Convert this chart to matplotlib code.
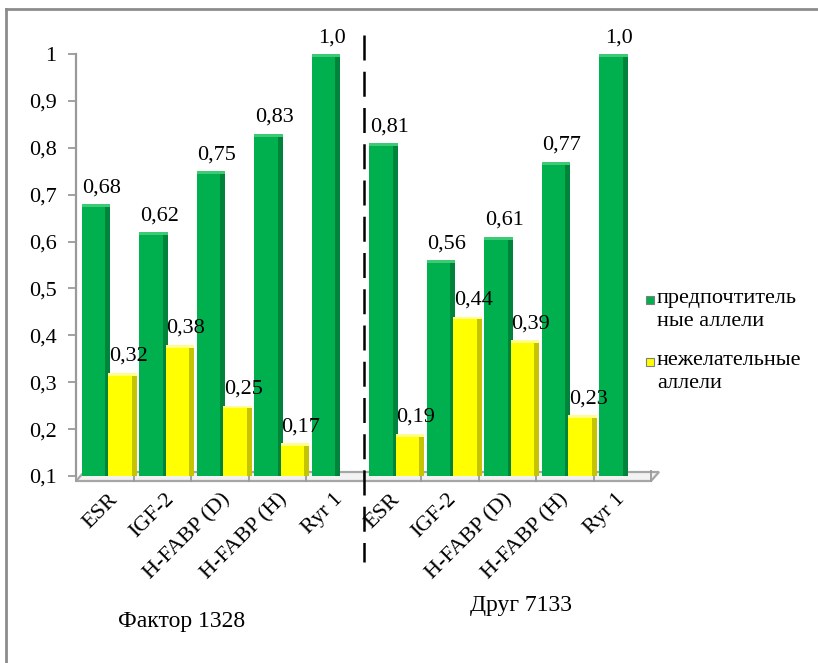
import matplotlib
matplotlib.use("Agg")
import matplotlib.pyplot as plt
import numpy as np
from matplotlib.patches import Polygon, Rectangle
from matplotlib.lines import Line2D
from matplotlib.transforms import blended_transform_factory
from matplotlib.ticker import FixedLocator, FuncFormatter

plt.rcParams['font.family'] = ['Liberation Serif', 'DejaVu Serif']

# Genes studied for each bull
genes = ["ESR", "IGF-2", "H-FABP (D)", "H-FABP (H)", "Ryr 1"]
bulls = ["Фактор 1328", "Друг 7133"]

# Allele frequencies, bull by bull
preferred_factor = [0.68, 0.62, 0.75, 0.83, 1.0]
undesired_factor = [0.32, 0.38, 0.25, 0.17, None]
preferred_drug = [0.81, 0.56, 0.61, 0.77, 1.0]
undesired_drug = [0.19, 0.44, 0.39, 0.23, None]

legend_labels = ["предпочтитель\nные аллели", "нежелательные\nаллели"]
y_ticks = [0.1, 0.2, 0.3, 0.4, 0.5, 0.6, 0.7, 0.8, 0.9, 1.0]

categories = genes + genes
preferred = preferred_factor + preferred_drug
undesired = undesired_factor + undesired_drug

BASE = 0.1
GREEN, GREEN_SIDE, GREEN_TOP = "#00B04F", "#00833A", "#3CCB74"
YELLOW, YELLOW_SIDE, YELLOW_TOP = "#FFFF00", "#C4C400", "#FFFF8A"
FS = 16


def fmt(v):
    return "1,0" if v == 1.0 else f"{v:.2f}".replace(".", ",")


fig = plt.figure(figsize=(8.18, 6.63), dpi=100)
W, H = 818, 663
ax_left, ax_right, ax_top, ax_bottom = 76, 651, 54, 476
ax = fig.add_axes([ax_left / W, 1 - ax_bottom / H,
                   (ax_right - ax_left) / W, (ax_bottom - ax_top) / H])

x = np.arange(len(categories))
bw = 0.49
side = 0.085
cap = 0.006


def draw_bars(xc, vals, face, side_col, top_col):
    xs = [xi for xi, v in zip(xc, vals) if v is not None]
    vs = np.array([v for v in vals if v is not None])
    ax.bar(xs, vs - BASE, bottom=BASE, width=bw, color=face,
           edgecolor="none", zorder=3)
    # shaded right side face
    ax.bar(np.array(xs) + bw / 2 - side / 2, vs - BASE, bottom=BASE,
           width=side, color=side_col, edgecolor="none", zorder=3)
    # bevelled top
    ax.bar(xs, np.full(len(vs), cap), bottom=vs - cap, width=bw,
           color=top_col, edgecolor="none", zorder=3)
    for xi, v in zip(xs, vs):
        ax.annotate(fmt(v), (xi + 0.1, v), xytext=(0, 5),
                    textcoords="offset points", ha="center", va="bottom",
                    fontsize=FS, zorder=5)


draw_bars(x - 0.152, preferred, GREEN, GREEN_SIDE, GREEN_TOP)
draw_bars(x + 0.31, undesired, YELLOW, YELLOW_SIDE, YELLOW_TOP)

ax.set_xlim(-0.5, len(categories) - 0.5)
ax.set_ylim(BASE, 1.0)

# y axis
ax.yaxis.set_major_locator(FixedLocator(y_ticks))
ax.yaxis.set_major_formatter(FuncFormatter(
    lambda v, p: "1" if abs(v - 1) < 1e-9 else f"{v:.1f}".replace(".", ",")))
ax.tick_params(axis="y", length=6, width=1.3, color="#9a9a9a",
               labelsize=FS, pad=8)
for s in ["top", "right", "bottom"]:
    ax.spines[s].set_visible(False)
ax.spines["left"].set_color("#9a9a9a")
ax.spines["left"].set_linewidth(1.6)

# x axis: category labels (slight perspective drift) and boundary ticks
ax.set_xticks(x * 0.98 + 0.06)
ax.set_xticklabels(categories, rotation=45, ha="right",
                   rotation_mode="anchor", fontsize=FS)
ax.tick_params(axis="x", which="major", length=0, pad=10)
ax.set_xticks(np.arange(len(categories) + 1) - 0.5, minor=True)
ax.tick_params(axis="x", which="minor", length=9, width=1.3,
               color="#9a9a9a", direction="inout")

# floor
fy0, fy1, fdx = -5 / 422, 4 / 422, 8 / 575
floor = Polygon([(0, fy0), (1, fy0), (1 + fdx, fy1), (fdx, fy1)],
                closed=True, transform=ax.transAxes, facecolor="#f2f2f2",
                edgecolor="#a6a6a6", lw=1.6, clip_on=False, zorder=1)
ax.add_patch(floor)

# divider between the two bulls
tr = blended_transform_factory(ax.transData, fig.transFigure)
ax.add_line(Line2D([4.5, 4.5], [1 - 35 / H, 1 - 562 / H], transform=tr,
                   color="black", lw=1.8, linestyle=(0, (10, 4.5)),
                   clip_on=False, zorder=6))

# bull names
fig.text(182 / W, 1 - 621 / H, bulls[0], ha="center", va="center", fontsize=17)
fig.text(521 / W, 1 - 605 / H, bulls[1], ha="center", va="center", fontsize=17)

# legend
for (lbl, col, ty) in [(legend_labels[0], GREEN, 300),
                       (legend_labels[1], YELLOW, 362)]:
    fig.add_artist(Rectangle((646 / W, 1 - (ty + 4) / H), 8 / W, 8 / H,
                             transform=fig.transFigure, facecolor=col,
                             edgecolor="#7f7f7f", lw=0.8))
    fig.text(657 / W, 1 - (ty - 11) / H, lbl, ha="left", va="top",
             fontsize=FS, linespacing=1.3)

# outer frame
fig.add_artist(Line2D([6 / W, 6 / W], [0, 1 - 9 / H], transform=fig.transFigure,
                      color="#8c8c8c", lw=2))
fig.add_artist(Line2D([6 / W, 1], [1 - 9 / H, 1 - 9 / H],
                      transform=fig.transFigure, color="#8c8c8c", lw=2))

fig.savefig("out.png", dpi=100)
